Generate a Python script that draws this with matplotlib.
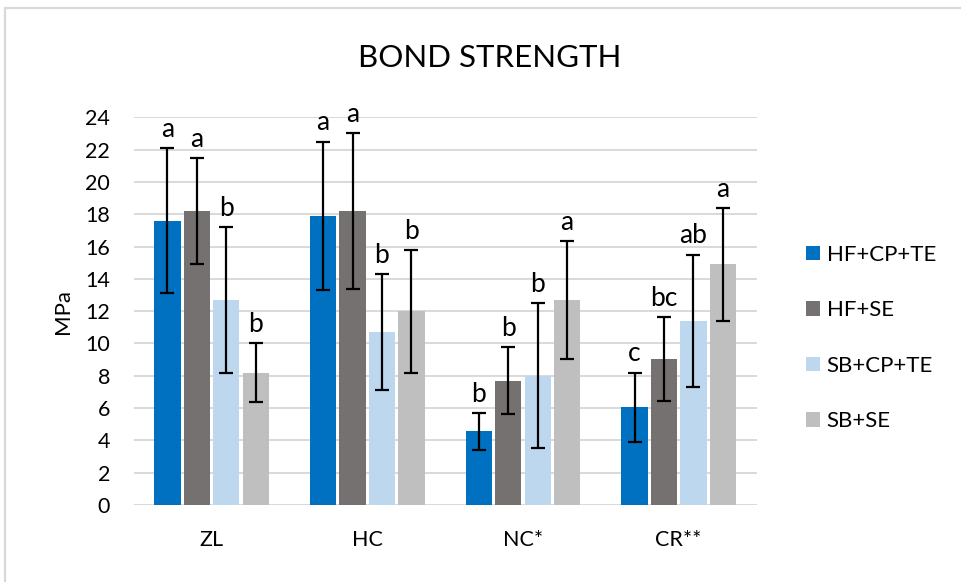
import matplotlib
matplotlib.use("Agg")
import matplotlib.pyplot as plt
from matplotlib.patches import Rectangle
import numpy as np

plt.rcParams['font.family'] = ['Lato', 'DejaVu Sans']

# Data
categories = ["ZL", "HC", "NC*", "CR**"]
groups = ["HF+CP+TE", "HF+SE", "SB+CP+TE", "SB+SE"]
means = {
    "HF+CP+TE": [17.6, 17.9, 4.55, 6.05],
    "HF+SE":    [18.2, 18.2, 7.7, 9.05],
    "SB+CP+TE": [12.7, 10.7, 8.0, 11.4],
    "SB+SE":    [8.2, 12.0, 12.7, 14.9],
}
sds = {
    "HF+CP+TE": [4.5, 4.6, 1.15, 2.15],
    "HF+SE":    [3.3, 4.85, 2.05, 2.6],
    "SB+CP+TE": [4.5, 3.6, 4.5, 4.1],
    "SB+SE":    [1.8, 3.8, 3.65, 3.5],
}
letters = {
    "HF+CP+TE": ["a", "a", "b", "c"],
    "HF+SE":    ["a", "a", "b", "bc"],
    "SB+CP+TE": ["b", "b", "b", "ab"],
    "SB+SE":    ["b", "b", "a", "a"],
}
colors = {
    "HF+CP+TE": "#0070C0",
    "HF+SE": "#767171",
    "SB+CP+TE": "#BDD7EE",
    "SB+SE": "#BFBFBF",
}
yticks = [0, 2, 4, 6, 8, 10, 12, 14, 16, 18, 20, 22, 24]

W, H = 961, 582
fig = plt.figure(figsize=(W / 100, H / 100), dpi=100)
fig.patch.set_facecolor("white")

# chart frame
fig.add_artist(Rectangle((5 / W, -0.1), 1.2, (H - 8) / H + 0.1,
                         transform=fig.transFigure, fill=False,
                         edgecolor="#D9D9D9", linewidth=1.6))

ax = fig.add_axes([133.7 / W, 77 / H, 622.8 / W, 387.7 / H])

x = np.arange(len(categories))
bar_w = 0.169
step = 0.189
offsets = (np.arange(len(groups)) - 1.5) * step

for g, off in zip(groups, offsets):
    xs = x + off
    ax.bar(xs, means[g], width=bar_w, color=colors[g], label=g, zorder=2)
    ax.errorbar(xs, means[g], yerr=sds[g], fmt="none", ecolor="black",
                elinewidth=1.6, capsize=5.3, capthick=1.6, zorder=3)
    for xi, m, s, lt in zip(xs, means[g], sds[g], letters[g]):
        ax.annotate(lt, (xi, m + s), xytext=(0, 8), textcoords="offset points",
                    ha="center", va="baseline", fontsize=19, color="black")

ax.set_xlim(-0.5, len(categories) - 0.5)
ax.set_ylim(0, 24)
ax.set_yticks(yticks)
ax.set_xticks(x)
ax.set_xticklabels(categories)
ax.tick_params(axis="both", length=0, labelsize=15.5, colors="black")
ax.tick_params(axis="y", pad=17)
ax.tick_params(axis="x", pad=18)
ax.yaxis.grid(True, color="#D9D9D9", linewidth=1.4, zorder=0)
ax.set_axisbelow(True)
for sp in ax.spines.values():
    sp.set_visible(False)
ax.set_ylabel("MPa", fontsize=16, labelpad=9)

fig.text(490 / W, 1 - 58.3 / H, "BOND STRENGTH", ha="center", va="center",
         fontsize=22.5)

ax.legend(loc="center left", bbox_to_anchor=(806 / W, 1 - 338 / H),
          bbox_transform=fig.transFigure, frameon=False, fontsize=16,
          handlelength=0.63, handleheight=0.63, handletextpad=0.3,
          labelspacing=1.6, borderpad=0, borderaxespad=0)

fig.savefig("out.png", dpi=100, facecolor="white")
